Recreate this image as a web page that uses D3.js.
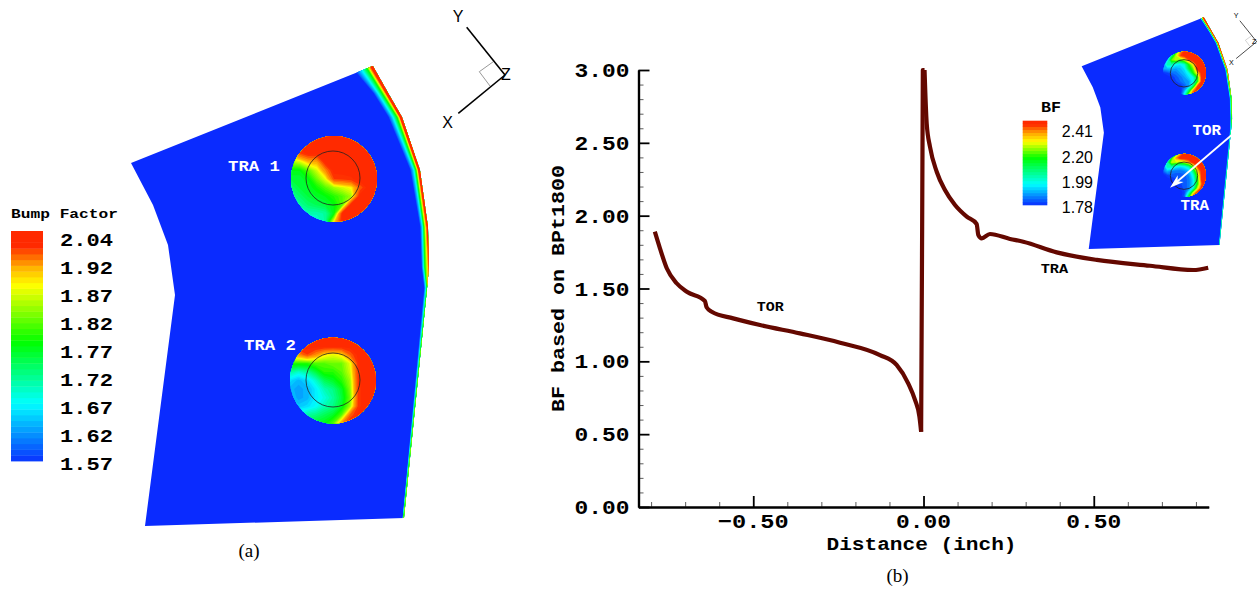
<!DOCTYPE html>
<html><head><meta charset="utf-8">
<script src="https://cdn.jsdelivr.net/npm/d3@7/dist/d3.min.js"></script>
<style>html,body{margin:0;padding:0;background:#fff;overflow:hidden}svg{display:block}</style>
</head><body><svg id="c" width="1257" height="589"></svg>
<script>
// ---------- line plot data (b)
const leftDistance = [-0.789,-0.774,-0.754,-0.725,-0.695,-0.642,-0.637,-0.622,-0.559,-0.48,-0.363,-0.245,-0.128,-0.079,-0.045,-0.025,-0.012,-0.007];
const leftBF = [1.89,1.776,1.639,1.536,1.478,1.414,1.371,1.341,1.295,1.249,1.192,1.128,1.043,0.975,0.849,0.735,0.62,0.517];
const spikeDistance = [-0.007,-0.004,-0.002,0.003];
const spikeBF = [0.517,1.924,3.0,3.0];
const rightDistance = [0.003,0.0093,0.019,0.039,0.063,0.0925,0.127,0.156,0.161,0.171,0.195,0.254,0.293,0.391,0.509,0.665,0.792,0.836];
const rightBF = [3.0,2.634,2.473,2.30,2.176,2.073,1.993,1.943,1.867,1.844,1.874,1.84,1.821,1.748,1.696,1.656,1.627,1.643];
const xMajor = [-0.5,0,0.5];
const xMinor = [-0.8,-0.7,-0.6,-0.4,-0.3,-0.2,-0.1,0.1,0.2,0.3,0.4,0.6,0.7,0.8];
const yMajor = [0,0.5,1,1.5,2,2.5,3];
const yMinor = [0.1,0.2,0.3,0.4,0.6,0.7,0.8,0.9,1.1,1.2,1.3,1.4,1.6,1.7,1.8,1.9,2.1,2.2,2.3,2.4,2.6,2.7,2.8,2.9];
// ---------- legends
const mainLabels = ["2.04","1.92","1.87","1.82","1.77","1.72","1.67","1.62","1.57"];
const mainStops = [1.57,1.677,1.786,1.888,1.925,2.01];
const insetLabels = ["2.41","2.20","1.99","1.78"];
const insetStops = [1.80,1.975,2.20,2.33,2.40,2.47];
const stopColors = ["#0a2bff","#00ffff","#00ff00","#ffff00","#ffa500","#ff2a00"];
// ---------- panel outline and edge field
const panelOutline = [[131,163],[373,66],[402,117],[420,170],[428,227],[429,267],[427,288],[404,518],[145,526],[175,295],[168,245],[153,205]];
const edgeOuter = [[364,50],[388,93],[402,117],[420,170],[428,227],[429,267],[427.5,288],[404,518]];
const edgeWidthsMain = [[28,16,8,6,3],[15,10,6,3.5,2],[14,9,5,3,2],[10,6,4,2.5,1.5],[8,5.5,4,2.5,1],[7.5,5.5,4,1.5,0],[3.5,1.5,.5,0,0],[1.5,1,.5,0,0]];
const edgeWidthsInset = [[10,8,6,5,3],[6,4.5,3,2,1],[6,4,3,2,1],[5,3,2,1,0.3],[4,2.5,1,0,0],[4,2,.5,0,0],[3,1,0,0,0],[1.5,.5,0,0,0]];
// ---------- disk fields, 11 x 11 samples
const tra1 = [
[2.04,2.04,2.04,2.04,2.04,2.04,2.04,2.04,2.04,2.04,2.04],
[2.04,2.04,2.04,2.04,2.04,2.04,2.04,2.04,2.04,2.04,2.04],
[1.95,2.00,2.04,2.04,2.04,2.04,2.04,2.04,2.04,2.04,2.04],
[1.85,1.87,1.92,1.93,2.04,2.04,2.04,2.04,2.04,2.04,2.04],
[1.78,1.78,1.82,1.87,1.95,2.04,2.04,2.04,2.04,2.04,2.04],
[1.76,1.76,1.78,1.83,1.88,2.00,2.01,2.02,2.04,2.04,2.04],
[1.74,1.76,1.77,1.79,1.82,1.85,1.87,1.89,1.98,2.04,2.04],
[1.72,1.74,1.76,1.77,1.78,1.80,1.82,1.85,2.04,2.04,2.04],
[1.70,1.72,1.74,1.75,1.76,1.78,1.82,2.04,2.04,2.04,2.04],
[1.68,1.70,1.71,1.71,1.72,1.78,2.04,2.04,2.04,2.04,2.04],
[1.67,1.68,1.69,1.69,1.72,1.90,2.04,2.04,2.04,2.04,2.04]];
const tra2 = [
[2.04,2.04,2.04,2.04,2.04,2.04,2.04,2.04,2.04,2.04,2.04],
[2.00,2.04,2.04,2.04,2.04,2.04,2.04,2.04,2.04,2.04,2.04],
[1.95,1.95,2.00,1.95,1.90,1.88,1.90,1.98,2.04,2.04,2.04],
[1.80,1.80,1.80,1.82,1.82,1.83,1.83,1.88,2.03,2.04,2.04],
[1.72,1.70,1.72,1.76,1.80,1.80,1.82,1.87,2.02,2.04,2.04],
[1.66,1.64,1.66,1.70,1.75,1.77,1.80,1.85,2.02,2.04,2.04],
[1.64,1.63,1.64,1.67,1.71,1.73,1.77,1.84,2.02,2.04,2.04],
[1.65,1.63,1.64,1.67,1.69,1.72,1.76,1.83,2.02,2.04,2.04],
[1.66,1.65,1.66,1.68,1.71,1.73,1.77,1.85,2.02,2.04,2.04],
[1.70,1.70,1.72,1.73,1.75,1.77,1.82,1.98,2.04,2.04,2.04],
[1.75,1.75,1.76,1.77,1.78,1.82,1.95,2.04,2.04,2.04,2.04]];
const insetTop = [
[1.90,2.00,2.10,2.20,2.40,2.50,2.50,2.50,2.50,2.50,2.50],
[1.80,1.90,2.10,2.30,2.45,2.50,2.50,2.50,2.50,2.50,2.50],
[1.80,1.95,2.25,2.30,2.22,2.30,2.45,2.50,2.50,2.50,2.50],
[1.85,2.05,2.05,1.98,1.96,2.02,2.20,2.35,2.50,2.50,2.50],
[1.90,1.92,1.92,1.90,1.92,1.96,2.15,2.25,2.50,2.50,2.50],
[1.80,1.82,1.85,1.86,1.90,1.93,2.00,2.20,2.35,2.50,2.50],
[1.78,1.78,1.80,1.84,1.86,1.90,1.95,2.00,2.20,2.50,2.50],
[1.78,1.78,1.78,1.82,1.85,1.88,1.90,1.98,2.20,2.50,2.50],
[1.78,1.78,1.78,1.78,1.80,1.84,1.90,2.10,2.45,2.50,2.50],
[1.78,1.78,1.78,1.78,1.78,1.90,2.10,2.40,2.50,2.50,2.50],
[1.78,1.78,1.78,1.78,1.78,2.00,2.30,2.50,2.50,2.50,2.50]];
const insetBottom = [
[1.90,2.00,2.10,2.20,2.40,2.50,2.50,2.50,2.50,2.50,2.50],
[1.82,1.95,2.20,2.40,2.50,2.50,2.50,2.50,2.50,2.50,2.50],
[1.82,2.05,2.30,2.30,2.25,2.30,2.40,2.50,2.50,2.50,2.50],
[1.85,2.05,2.05,1.98,1.95,1.98,2.05,2.25,2.45,2.50,2.50],
[1.85,1.92,1.88,1.86,1.86,1.88,1.92,2.10,2.35,2.50,2.50],
[1.78,1.82,1.84,1.84,1.84,1.84,1.88,2.00,2.25,2.50,2.50],
[1.78,1.78,1.80,1.82,1.84,1.84,1.86,1.96,2.20,2.50,2.50],
[1.78,1.78,1.78,1.80,1.82,1.84,1.86,1.96,2.20,2.45,2.50],
[1.78,1.78,1.78,1.78,1.80,1.84,1.86,2.00,2.30,2.50,2.50],
[1.78,1.78,1.78,1.78,1.78,1.82,2.00,2.30,2.50,2.50,2.50],
[1.78,1.78,1.78,1.78,1.78,1.85,2.20,2.50,2.50,2.50,2.50]];

// ---------- helpers
const svg = d3.select("#c");
const MONO = "'Liberation Mono',monospace", SERIF = "'Liberation Serif',serif", SANS = "'Liberation Sans',sans-serif";
function txt(p, s, x, y, o = {}) {
  const t = p.append("text").attr("x", x).attr("y", y).text(s)
    .attr("font-family", o.f || MONO).attr("font-size", o.s || 14)
    .attr("font-weight", o.w || "bold").attr("fill", o.c || "#000")
    .attr("text-anchor", o.a || "start");
  if (o.len) t.attr("textLength", o.len).attr("lengthAdjust", "spacingAndGlyphs");
  if (o.rot) t.attr("transform", `rotate(${o.rot} ${x} ${y})`);
  return t;
}
const mainColor = d3.scaleLinear(mainStops, stopColors).clamp(true);
const insetColor = d3.scaleLinear(insetStops, stopColors).clamp(true);
const mainValueAt = d3.scaleLinear([463,267,239,231],[1.57,1.92,2.04,2.07]);
const insetValueAt = d3.scaleLinear([205,157.7,120.7],[1.80,2.20,2.50]);
const mainBands = d3.range(40).map(i => mainValueAt(461 - i * 230 / 40));
const insetBands = d3.range(28).map(i => insetValueAt(205 - i * 84.3 / 28));

function drawPanel(g, widths, stops, color, bands, id) {
  const line = d3.line();
  g.append("clipPath").attr("id", id).append("path").attr("d", line(panelOutline) + "Z");
  g.append("path").attr("d", line(panelOutline) + "Z").attr("fill", stopColors[0]);
  const e = g.append("g").attr("clip-path", `url(#${id})`);
  const offs = widths.map(w => d3.scaleLinear(stops.slice(0,4).concat(stops[5]), w).clamp(true));
  bands.slice(1).forEach(b => {
    const inner = edgeOuter.map((p, k) => [p[0] - offs[k](b), p[1]]);
    e.append("path").attr("d", line(inner.concat(edgeOuter.slice().reverse())) + "Z")
      .attr("fill", color(b + (bands[1] - bands[0]) / 2));
  });
}
function drawDisk(field, cx, cy, r, rInner, ix, iy, color, bands, id) {
  const n = field[0].length, flat = field.flat();
  const k = 2 * r / (n - 1);
  const proj = d3.geoTransform({ point(x, y) { this.stream.point(cx + (x - n / 2) * k, cy + (y - n / 2) * k); } });
  const path = d3.geoPath(proj);
  svg.append("clipPath").attr("id", id).append("circle").attr("cx", cx).attr("cy", cy).attr("r", r);
  const g = svg.append("g").attr("clip-path", `url(#${id})`);
  const cs = d3.contours().size([n, n]).thresholds(bands)(flat);
  g.selectAll("path").data(cs).join("path").attr("d", path)
    .attr("fill", d => color(d.value + (bands[1] - bands[0]) / 2));
  svg.append("circle").attr("cx", ix).attr("cy", iy).attr("r", rInner)
    .attr("fill", "none").attr("stroke", "#222").attr("stroke-width", 0.8);
}
function drawTriad(g, zAnchor, zX) {
  const L = d3.line();
  g.append("path").attr("d", L([[479.3,71.7],[493.3,61.7]])).attr("stroke", "#999").attr("fill", "none");
  g.append("path").attr("d", L([[479.3,71.7],[490,86]])).attr("stroke", "#999").attr("fill", "none");
  g.append("path").attr("d", L([[466.7,27.3],[505,75]])).attr("stroke", "#000").attr("stroke-width", 1.6).attr("fill", "none");
  g.append("path").attr("d", L([[458.3,113.3],[505,75]])).attr("stroke", "#000").attr("stroke-width", 1.6).attr("fill", "none");
  txt(g, "Y", 458, 22, { f: SANS, s: 16, w: "normal", a: "middle" });
  txt(g, "X", 447.5, 128, { f: SANS, s: 16, w: "normal", a: "middle" });
  txt(g, "Z", zX, 80, { f: SANS, s: 16, w: "normal", a: zAnchor });
}

// ---------- panel (a)
drawPanel(svg.append("g"), edgeWidthsMain, mainStops, mainColor, mainBands, "clipA");
drawDisk(tra1, 334, 179, 43, 27, 333, 178, mainColor, mainBands, "d1");
drawDisk(tra2, 333, 380.5, 43, 27, 333, 380, mainColor, mainBands, "d2");
txt(svg, "TRA 1", 228, 171, { s: 15, c: "#fff", len: 52 });
txt(svg, "TRA 2", 244, 350, { s: 15, c: "#fff", len: 52 });
drawTriad(svg.append("g"), "middle", 506);
// legend (a)
const legA = svg.append("g");
const bandH = 230 / 40;
mainBands.forEach((b, i) => legA.append("rect").attr("x", 11).attr("width", 32)
  .attr("y", 461 - (i + 1) * bandH).attr("height", bandH + .4)
  .attr("fill", mainColor(mainValueAt(461 - (i + .5) * bandH))));
txt(svg, "Bump Factor", 11, 218, { s: 13, len: 107 });
mainLabels.forEach((l, i) => txt(svg, l, 60, 245.5 + i * 28, { s: 18, len: 53 }));
txt(svg, "(a)", 249, 557, { f: SERIF, s: 19, w: "normal", a: "middle" });

// ---------- panel (b) axes
const x = d3.scaleLinear([-0.837, 0.8375], [638.5, 1208.7]);
const y = d3.scaleLinear([0, 3], [507, 70]);
const plot = svg.append("g");
function styleAxis(g) {
  g.selectAll("text").remove();
  g.selectAll(".domain").attr("stroke", "#000").attr("stroke-width", 2.2);
}
plot.append("g").attr("transform", `translate(0,${y(0)})`)
  .call(d3.axisBottom(x).tickValues(xMinor).tickSizeInner(-5).tickSizeOuter(0))
  .call(styleAxis).call(g => g.selectAll("line").attr("stroke", "#333").attr("stroke-width", .8));
plot.append("g").attr("transform", `translate(0,${y(0)})`)
  .call(d3.axisBottom(x).tickValues(xMajor).tickSizeInner(-11).tickSizeOuter(0))
  .call(styleAxis).call(g => g.selectAll("line").attr("stroke", "#000").attr("stroke-width", 1.8));
plot.append("g").attr("transform", `translate(${x.range()[0]},0)`)
  .call(d3.axisLeft(y).tickValues(yMinor).tickSizeInner(-5).tickSizeOuter(0))
  .call(styleAxis).call(g => g.selectAll("line").attr("stroke", "#333").attr("stroke-width", .8));
plot.append("g").attr("transform", `translate(${x.range()[0]},0)`)
  .call(d3.axisLeft(y).tickValues(yMajor).tickSizeInner(-11).tickSizeOuter(0))
  .call(styleAxis).call(g => g.selectAll("line").attr("stroke", "#000").attr("stroke-width", 1.8));
yMajor.forEach(v => txt(svg, v.toFixed(2), 629.5, y(v) + 7, { s: 21, a: "end", len: 55 }));
xMajor.forEach(v => {
  const s = v < 0 ? "\u2212" + Math.abs(v).toFixed(2) : v.toFixed(2);
  txt(svg, s, x(v), 528, { s: 21, a: "middle", len: v < 0 ? 71 : 55 });
});
txt(svg, "Distance (inch)", 921.5, 550, { s: 19, a: "middle", len: 190 });
txt(svg, "BF based on BPt1800", 564, 288.5, { s: 19, a: "middle", len: 247, rot: -90 });
txt(svg, "(b)", 897.5, 582, { f: SERIF, s: 19, w: "normal", a: "middle" });
txt(svg, "TOR", 756.7, 311, { s: 13.5, len: 27 });
txt(svg, "TRA", 1040.7, 272.5, { s: 13.5, len: 27.5 });

// ---------- inset
drawPanel(svg.append("g").attr("transform", "translate(1015.5,-16) scale(0.505,0.504)"),
  edgeWidthsInset, insetStops, insetColor, insetBands, "clipB");
drawDisk(insetTop, 1184.5, 73, 21.5, 13.7, 1184, 73.3, insetColor, insetBands, "d3");
drawDisk(insetBottom, 1184.5, 175.3, 21.5, 13.7, 1184, 175.7, insetColor, insetBands, "d4");
drawTriad(svg.append("g").attr("transform", "translate(1034.5,8.7) scale(0.44)"), "end", 504);
const legB = svg.append("g");
const bandH2 = 84.3 / 28;
insetBands.forEach((b, i) => legB.append("rect").attr("x", 1022.7).attr("width", 24.6)
  .attr("y", 205 - (i + 1) * bandH2).attr("height", bandH2 + .3)
  .attr("fill", insetColor(insetValueAt(205 - (i + .5) * bandH2))));
txt(svg, "BF", 1051, 111.7, { s: 14, a: "middle", len: 20 });
insetLabels.forEach((l, i) => txt(svg, l, 1093, [137.2,163.2,188.2,212.5][i], { f: SANS, s: 16, w: "normal", a: "end" }));

// arrow
const arrowFrom = [1231.7, 135], arrowTo = [1170, 187.7];
const ang = Math.atan2(arrowTo[1] - arrowFrom[1], arrowTo[0] - arrowFrom[0]);
const rotP = (b, s) => [arrowTo[0] - b * Math.cos(ang) + s * Math.sin(ang), arrowTo[1] - b * Math.sin(ang) - s * Math.cos(ang)];
svg.append("path").attr("d", d3.line()([arrowFrom, rotP(8, 0)])).attr("stroke", "#fff").attr("stroke-width", 1.8).attr("fill", "none");
svg.append("path").attr("d", d3.line()([arrowTo, rotP(14, 4.5), rotP(10, 0), rotP(14, -4.5)]) + "Z").attr("fill", "#fff");
txt(svg, "TOR", 1192.5, 134.5, { s: 14, c: "#fff", len: 28.5 });
txt(svg, "TRA", 1180.5, 210, { s: 14, c: "#fff", len: 28.5 });

// ---------- curve, drawn last
const curveColor = "#640800";
const smooth = d3.line().x(d => x(d[0])).y(d => y(d[1])).curve(d3.curveMonotoneX);
const straight = d3.line().x(d => x(d[0])).y(d => y(d[1]));
[[leftDistance, leftBF, smooth], [spikeDistance, spikeBF, straight], [rightDistance, rightBF, smooth]].forEach(([dx, dy, gen]) =>
  svg.append("path").datum(d3.zip(dx, dy)).attr("d", gen)
    .attr("fill", "none").attr("stroke", curveColor).attr("stroke-width", 4.2).attr("stroke-linejoin", "round"));
</script></body></html>
